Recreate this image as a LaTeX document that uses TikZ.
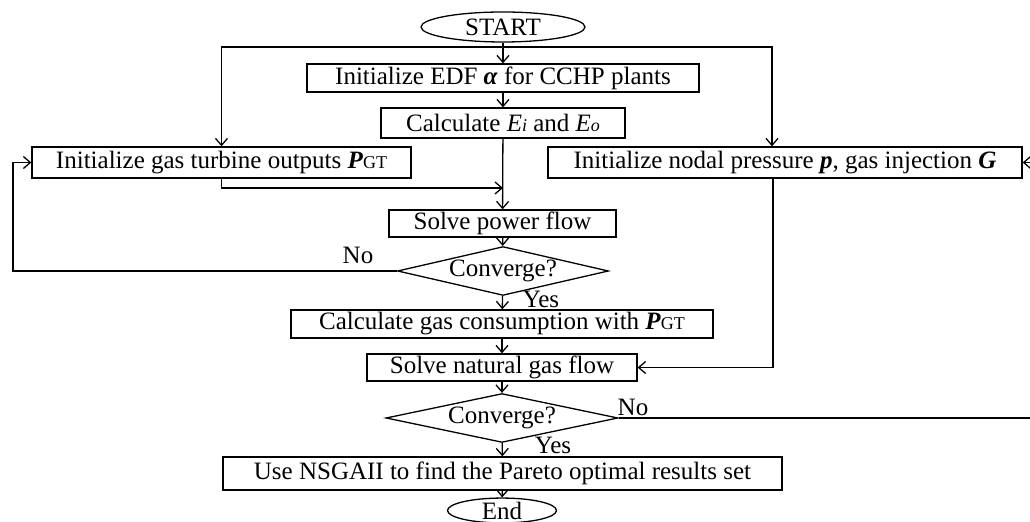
\documentclass[tikz,border=0pt]{standalone}
\usepackage{fontspec}
\setmainfont{Liberation Serif}
\usetikzlibrary{arrows.meta,shapes.geometric}
\newcommand{\bfit}[1]{\textbf{\textit{#1}}}
\newcommand{\sml}[1]{{\fontsize{9}{10}\selectfont #1}}
\tikzset{
  box/.style={draw,rectangle,inner sep=0pt},
  term/.style={draw,ellipse,inner sep=0pt},
  decide/.style={draw,diamond,aspect=4,inner sep=0pt},
  lbl/.style={inner sep=0pt}
}

\begin{document}
\begin{tikzpicture}[x=0.5pt,y=-0.5pt,>={Straight Barb[length=3.5pt,width=6pt]},line width=0.65pt,font=\fontsize{12.5}{14}\selectfont]
    \useasboundingbox (0,0) rectangle (1030,522);

    \node[term,minimum width=82pt,minimum height=15pt] (start) at (503,27) {START};
    \node[box,minimum width=196pt,minimum height=14pt] (edf) at (503,78) {Initialize EDF \bfit{α} for CCHP plants};
    \node[box,minimum width=122pt,minimum height=15pt] (calc) at (503,123) {Calculate \textit{E}\sml{\textit{i}} and \textit{E}\sml{\textit{o}}};
    \node[box,minimum width=189.5pt,minimum height=15.5pt] (pgt) at (221.5,162.5) {Initialize gas turbine outputs \bfit{P}\sml{GT}};
    \node[box,minimum width=237pt,minimum height=15.5pt] (inig) at (785,162.5) {Initialize nodal pressure \bfit{p}, gas injection \bfit{G}};
    \node[box,minimum width=113.5pt,minimum height=13.5pt] (spf) at (502.5,223.5) {Solve power flow};
    \node[decide,minimum width=105.5pt,minimum height=22pt] (conv1) at (503,271) {Converge?};
    \node[box,minimum width=211pt,minimum height=14pt] (cgas) at (502,324) {Calculate gas consumption with \bfit{P}\sml{GT}};
    \node[box,minimum width=135pt,minimum height=13.5pt] (sngf) at (502,367.5) {Solve natural gas flow};
    \node[decide,minimum width=116pt,minimum height=20.5pt] (conv2) at (502,418) {Converge?};
    \node[box,minimum width=279.5pt,minimum height=16.5pt] (nsga) at (502.5,473.5) {Use NSGAII to find the Pareto optimal results set};
    \node[term,minimum width=54.5pt,minimum height=10pt] (end) at (502,510.5) {End};

    \node[lbl] (no1) at (358,255) {No};
    \node[lbl] (yes1) at (541,299) {Yes};
    \node[lbl] (no2) at (633,407) {No};
    \node[lbl] (yes2) at (553,445) {Yes};

    \coordinate (split) at (503,47);
    \coordinate (merge) at (503,188);
    \coordinate (loopL) at (13,271);
    \coordinate (loopR) at (1040,418);

    \draw[->] (start) -- (edf);
    \draw[->] (split) -| (pgt.north);
    \draw[->] (split) -| ([xshift=-6.5pt]inig.north);
    \draw[->] (edf) -- (calc);
    \draw[->] (calc) -- (spf);
    \draw[->] (pgt.south) |- (merge);
    \draw[->] (spf) -- (conv1);
    \draw[->] (conv1.west) -- (loopL) |- (pgt.west);
    \draw[->] (conv1) -- (cgas);
    \draw[->] (cgas) -- (sngf);
    \draw[->] ([xshift=-6pt]inig.south) |- (sngf.east);
    \draw[->] (sngf) -- (conv2);
    \draw[->] (conv2.east) -- (loopR) |- (inig.east);
    \draw[->] (conv2) -- (nsga);
    \draw[->] (nsga) -- (end);

\end{tikzpicture}
\end{document}
